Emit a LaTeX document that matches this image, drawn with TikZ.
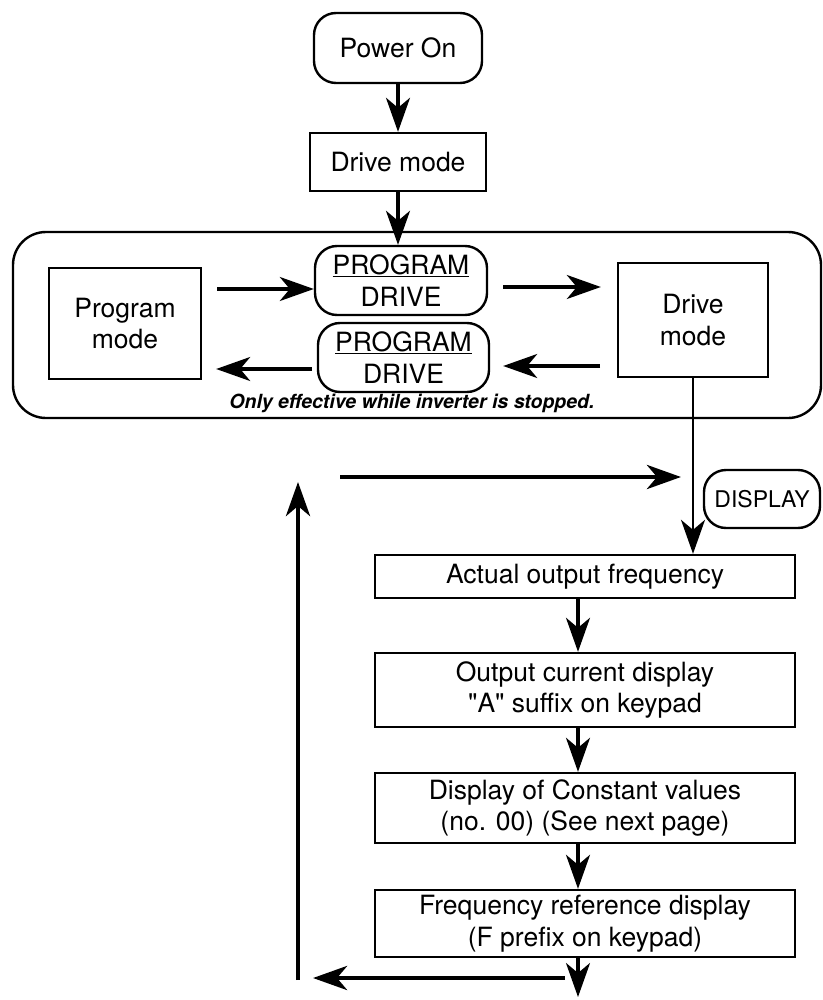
\documentclass[tikz,border=0pt]{standalone}
\usepackage{fontspec}
\setmainfont{TeX Gyre Heros}
\usetikzlibrary{arrows.meta}
\begin{document}
\begin{tikzpicture}[x=1pt,y=-1pt,
  box/.style={draw, line width=2.4pt, inner sep=0pt, align=center, font=\fontsize{26.5}{31.5}\selectfont},
  rbox/.style={box, rounded corners=22pt},
  arr/.style={-{Stealth[length=34pt,width=24pt,inset=10pt]}, line width=3.2pt},
  bigarr/.style={arr, line width=4.8pt},
  thinarr/.style={arr, line width=2pt},
]
\useasboundingbox (0,0) rectangle (822,1000);
% top
\node[rbox, minimum width=168pt, minimum height=70pt] (pwr) at (398,48) {Power On};
\node[box, minimum width=176pt, minimum height=58pt] (drv1) at (398,162) {Drive mode};
% outer group
\draw[line width=2.4pt, rounded corners=33pt] (13,232) rectangle (821,418);
\node[box, minimum width=152pt, minimum height=111pt] (prog) at (125,323.5) {Program\\mode};
\node[rbox, minimum width=172pt, minimum height=69pt] (tpd) at (401,280.5) {\underline{PROGRAM}\\DRIVE};
\node[rbox, minimum width=171pt, minimum height=69pt] (bpd) at (403.5,357.5) {\underline{PROGRAM}\\DRIVE};
\node[box, minimum width=150pt, minimum height=114pt] (drv2) at (693,320) {Drive\\mode};
\node[font=\fontsize{19.5}{22}\selectfont\bfseries\itshape, inner sep=0pt] (note) at (412,403) {Only effective while inverter is stopped.};
% lower chain
\node[rbox, minimum width=116pt, minimum height=58pt, font=\fontsize{23}{26}\selectfont] (disp) at (762,499) {DISPLAY};
\node[box, minimum width=420pt, minimum height=43pt] (act) at (585,576.5) {Actual output frequency};
\node[box, minimum width=420pt, minimum height=74pt] (cur) at (585,690) {Output current display\\\textquotedbl A\textquotedbl{} suffix on keypad};
\node[box, minimum width=420pt, minimum height=70pt] (con) at (585,808) {Display of Constant values\\(no. 00) (See next page)};
\node[box, minimum width=420pt, minimum height=67pt] (frq) at (585,923.5) {Frequency reference display\\(F prefix on keypad)};
% coordinates
\coordinate (a1s) at (217,289);
\coordinate (a2s) at (503,287);
\coordinate (a3s) at (600,366);
\coordinate (a4s) at (312,369);
\coordinate (lt1) at (340,477);
\coordinate (lt2) at (681,477);
\coordinate (fend) at (578,997);
\coordinate (lb1) at (565,978);
\coordinate (lb2) at (313,978);
\coordinate (lu1) at (298,980);
\coordinate (lu2) at (298,482);
% connectors
\draw[arr] (pwr) -- (drv1);
\draw[arr] (drv1.south) -- (drv1.south |- tpd.north);
\draw[arr] (a1s) -- (a1s -| tpd.west);
\draw[arr] (a2s) -- ([xshift=-16pt]a2s -| drv2.west);
\draw[arr] (a3s) -- ([xshift=13pt]a3s -| bpd.east);
\draw[arr] (a4s) -- ([xshift=14pt]a4s -| prog.east);
\draw[thinarr] (drv2.south) -- (drv2.south |- act.north);
\draw[arr] (act.south -| 578,0) -- (cur.north -| 578,0);
\draw[arr] (cur.south -| 578,0) -- (con.north -| 578,0);
\draw[arr] (con.south -| 578,0) -- (frq.north -| 578,0);
\draw[arr] (frq.south -| 578,0) -- (fend);
\draw[bigarr] (lb1) -- (lb2);
\draw[bigarr] (lu1) -- (lu2);
\draw[bigarr] (lt1) -- (lt2);
\end{tikzpicture}
\end{document}
